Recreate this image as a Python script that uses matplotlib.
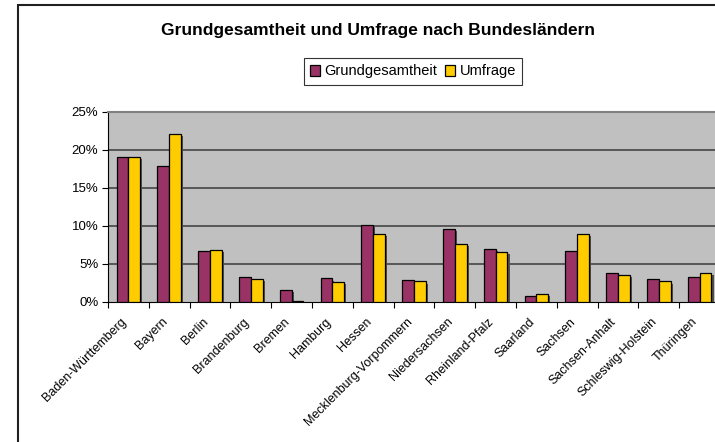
import matplotlib.pyplot as plt
import matplotlib.patheffects as pe
import matplotlib.transforms as mtrans
import numpy as np
from matplotlib.patches import Rectangle

plt.rcParams['font.family'] = ['Liberation Sans', 'DejaVu Sans']

laender = ["Baden-Württemberg", "Bayern", "Berlin", "Brandenburg", "Bremen",
           "Hamburg", "Hessen", "Mecklenburg-Vorpommern", "Niedersachsen",
           "Rheinland-Pfalz", "Saarland", "Sachsen", "Sachsen-Anhalt",
           "Schleswig-Holstein", "Thüringen"]
grundgesamtheit = [19.1, 17.9, 6.7, 3.3, 1.6, 3.1, 10.1, 2.9, 9.6, 7.0, 0.8, 6.7, 3.8, 3.0, 3.3]
umfrage = [19.1, 22.1, 6.8, 3.0, 0.1, 2.6, 9.0, 2.7, 7.6, 6.6, 1.0, 9.0, 3.5, 2.7, 3.8]
yticks = [0, 5, 10, 15, 20, 25]

fig = plt.figure(figsize=(7.15, 4.42), dpi=100)
# aeusserer Rahmen
fig.patches.append(Rectangle((18/715, -0.1), 1.1, 1 - 5/442 + 0.1, transform=fig.transFigure,
                             fill=False, edgecolor='#202020', lw=1.5))

ax = fig.add_axes([108/715, 1 - 302/442, 612/715, 190/442])
ax.set_facecolor('#c0c0c0')

x = np.arange(len(laender))
w = 0.29
schatten = [pe.SimplePatchShadow(offset=(1.5, -1.5), shadow_rgbFace='#505050', alpha=1), pe.Normal()]
b1 = ax.bar(x - w/2, grundgesamtheit, w, color='#993366', edgecolor='black', lw=0.9,
            label='Grundgesamtheit', zorder=3)
b2 = ax.bar(x + w/2, umfrage, w, color='#ffcc00', edgecolor='black', lw=0.9,
            label='Umfrage', zorder=3)
for b in list(b1) + list(b2):
    b.set_path_effects(schatten)

ax.set_xlim(-0.5, len(laender) - 0.5)
ax.set_ylim(0, 25)
ax.set_yticks(yticks)
ax.set_yticklabels([f"{t}%" for t in yticks], fontsize=9.5)
for t in yticks[1:-1]:
    ax.axhline(t, color='#3a3a3a', lw=1.1, zorder=1)

ax.set_xticks(np.arange(len(laender) + 1) - 0.5)
ax.set_xticklabels([])
ax.set_xticks(x, minor=True)
ax.set_xticklabels(laender, minor=True, rotation=45, ha='right', va='top',
                   rotation_mode='anchor', fontsize=9)
ax.tick_params(axis='x', which='minor', length=0, pad=10)
ax.tick_params(axis='x', which='major', length=4, direction='out', width=0.8)
ax.tick_params(axis='y', length=4, direction='out', width=0.8, pad=3)
# Beschriftungen etwas nach links schieben
verschieb = mtrans.ScaledTranslation(-0.08, 0, fig.dpi_scale_trans)
for lbl in ax.get_xticklabels(minor=True):
    lbl.set_transform(lbl.get_transform() + verschieb)

ax.spines['top'].set_color('#808080')
ax.spines['top'].set_linewidth(1.5)
ax.spines['right'].set_visible(False)
ax.spines['left'].set_color('black')
ax.spines['bottom'].set_color('black')

fig.text(378/715, 1 - 30/442, "Grundgesamtheit und Umfrage nach Bundesländern",
         ha='center', va='center', fontsize=12.5, fontweight='bold')

leg = fig.legend(handles=[b1, b2], loc='center', bbox_to_anchor=(413/715, 1 - 71.5/442),
                 ncol=2, fontsize=10.5, frameon=True, fancybox=False, handlelength=0.7,
                 handleheight=0.7, handletextpad=0.3, columnspacing=0.5, borderpad=0.45)
leg.get_frame().set_edgecolor('black')
leg.get_frame().set_linewidth(0.8)
for h in leg.legend_handles:
    h.set_path_effects([])

fig.savefig('out.png', dpi=100)
